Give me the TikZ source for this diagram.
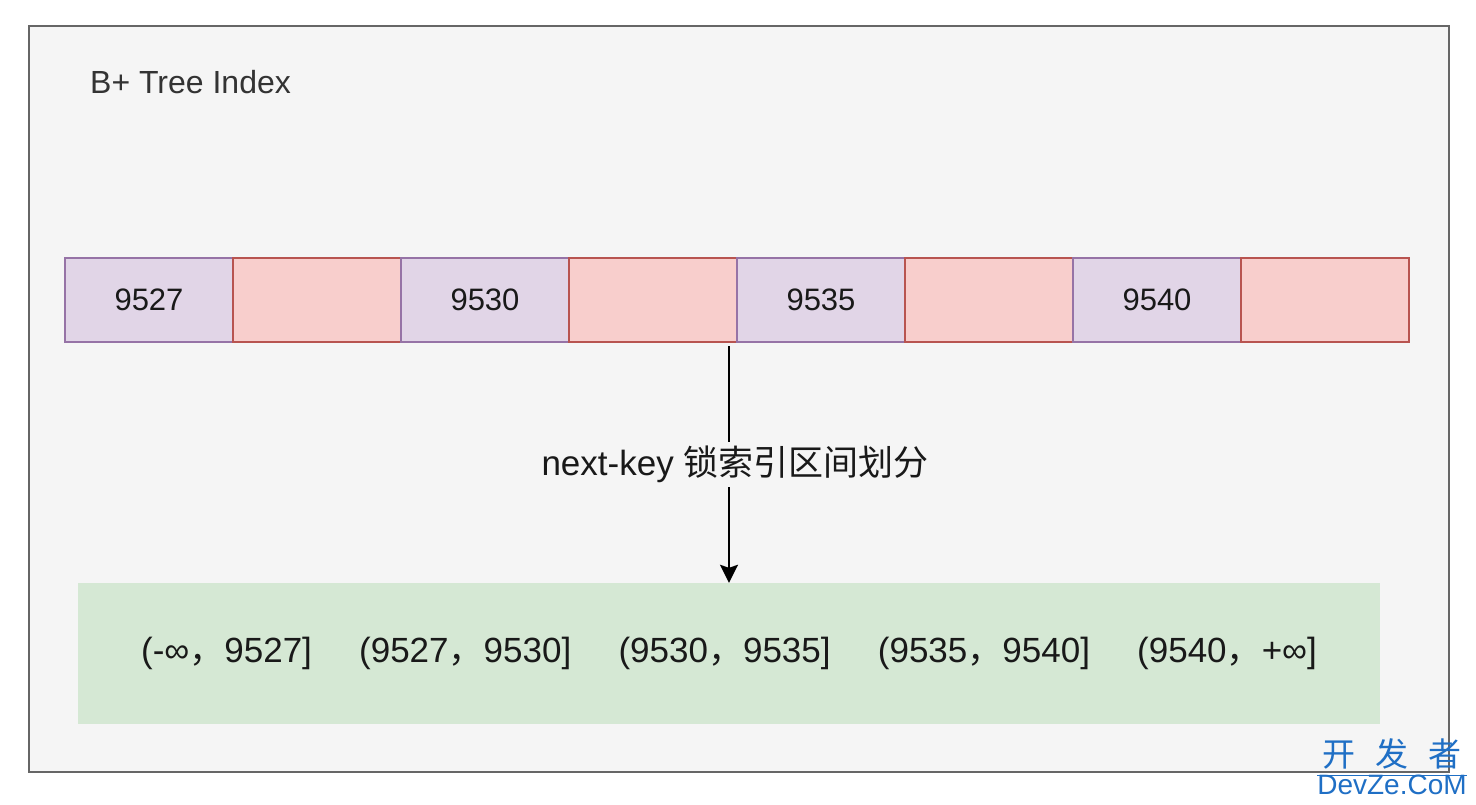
\documentclass[tikz,border=0pt]{standalone}
\usepackage{fontspec}
\setmainfont{Liberation Sans}
\newfontfamily\cjk{Noto Sans CJK SC}
\usetikzlibrary{positioning,arrows.meta}
\definecolor{framefill}{HTML}{F5F5F5}
\definecolor{framedraw}{HTML}{666666}
\definecolor{keyfill}{HTML}{E1D5E7}
\definecolor{keydraw}{HTML}{9673A6}
\definecolor{ptrfill}{HTML}{F8CECC}
\definecolor{ptrdraw}{HTML}{B85450}
\definecolor{rangefill}{HTML}{D5E8D4}
\definecolor{wmblue}{HTML}{1F6FC5}

\begin{document}
\begin{tikzpicture}[x=1pt,y=-1pt]
        \tikzset{outerframe/.style={draw=framedraw,fill=framefill,line width=1.5pt,
                minimum width=1420pt,minimum height=746pt,inner sep=0pt,outer sep=0pt},
            titletext/.style={text=black!80,font=\fontsize{32}{36}\selectfont,inner sep=0pt},
            keycell/.style={draw=keydraw,fill=keyfill,line width=1.2pt,minimum width=168pt,
                minimum height=84pt,inner sep=0pt,outer sep=0pt,text=black!90,
                font=\fontsize{31}{36}\selectfont},
            ptrcell/.style={keycell,draw=ptrdraw,fill=ptrfill},
            rangebox/.style={fill=rangefill,minimum width=1302pt,minimum height=141pt,
                inner sep=0pt,text=black!90,font=\fontsize{35}{40}\selectfont},
            link/.style={draw,line width=2pt,-{Stealth[length=18pt,width=18pt,inset=3pt]}},
            linklabel/.style={fill=framefill,inner sep=4pt,text=black!90,
                font=\fontsize{35}{40}\selectfont},
            wmtext/.style={text=wmblue,inner sep=0pt}}
        \useasboundingbox (0,0) rectangle (1476,804);
        \node[outerframe] (frame) at (739,399) {};
        \node[titletext,anchor=west] (title) at (90,82) {B+ Tree Index};
        \node[keycell] (k1) at (149,300) {9527};
        \node[ptrcell,right=0pt of k1] (p1) {};
        \node[keycell,right=0pt of p1] (k2) {9530};
        \node[ptrcell,right=0pt of k2] (p2) {};
        \node[keycell,right=0pt of p2] (k3) {9535};
        \node[ptrcell,right=0pt of k3] (p3) {};
        \node[keycell,right=0pt of p3] (k4) {9540};
        \node[ptrcell,right=0pt of k4] (p4) {};
        \node[rangebox] (ranges) at (729,653.5)
            {(-∞{\cjk ，}9527]\hspace{1.35em}(9527{\cjk ，}9530]\hspace{1.35em}(9530{\cjk ，}9535]\hspace{1.35em}(9535{\cjk ，}9540]\hspace{1.35em}(9540{\cjk ，}+∞]};
        \coordinate (split) at ([xshift=-8pt,yshift=-4pt]p2.south east);
        \draw[link] (split) -- (split |- ranges.north)
            node[midway,linklabel,xshift=6pt] (splitlabel) {next-key {\cjk 锁索引区间划分}};
        \node[wmtext,font=\cjk\fontsize{33}{36}\selectfont] (wmtop) at (1392,754)
            {开\hspace{20pt}发\hspace{20pt}者};
        \node[wmtext,font=\fontsize{28}{32}\selectfont] (wmbot) at (1392,785) {DevZe.CoM};
        \draw[wmblue,line width=0.8pt] ([yshift=-1pt]wmbot.north west) -- ([yshift=-1pt]wmbot.north east);
    \end{tikzpicture}
\end{document}
